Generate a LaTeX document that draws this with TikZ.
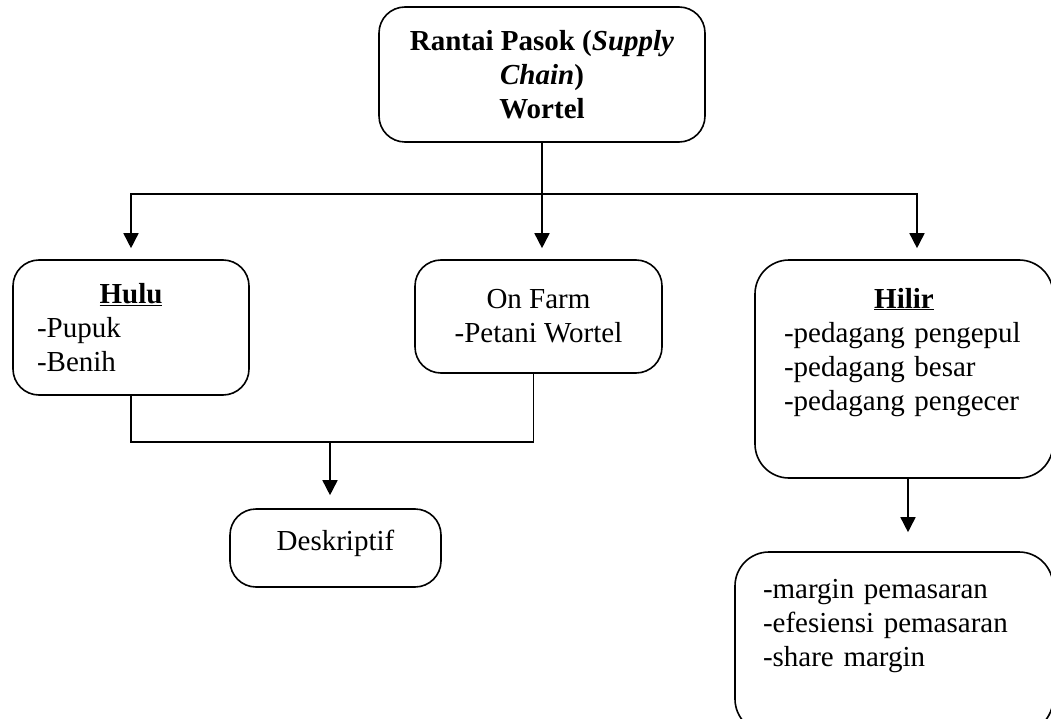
\documentclass[tikz,border=0pt]{standalone}
\usepackage{fontspec}
\setmainfont{Liberation Serif}
\usetikzlibrary{positioning, arrows.meta, calc}

\begin{document}
\begin{tikzpicture}[
  x=1pt, y=-1pt,
  box/.style={draw, line width=1.6pt, rounded corners=26pt, inner sep=0pt, align=center,
    font=\fontsize{29}{34}\selectfont},
  arrow/.style={-{Triangle[width=15pt,length=15pt]}, line width=1.6pt},
  link/.style={line width=1.6pt}
]
  \useasboundingbox (0,0) rectangle (1051,719);

  % Nodes
  \node[box, font=\fontsize{29}{34}\selectfont\bfseries, minimum width=326pt, minimum height=135pt]
    (rantai) at (542,74.5) {Rantai Pasok (\textit{Supply}\\ \textit{Chain})\\ Wortel};
  \node[box, minimum width=236pt, minimum height=135pt, text width=188pt, align=left] (hulu) at (131,327.5)
    {\makebox[\linewidth]{\textbf{\underline{Hulu}}}\\ -Pupuk\\ -Benih};
  \node[box, minimum width=247pt, minimum height=113pt] (onfarm) at (538.5,316.5)
    {On Farm\\ -Petani Wortel};
  \node[box, rounded corners=34pt, minimum width=298pt, text width=240pt, align=left,
    text height=48pt, text depth=170pt] (hilir) at (904,369)
    {\makebox[\linewidth]{\textbf{\underline{Hilir}}}\\ -pedagang pengepul\\ -pedagang besar\\ -pedagang pengecer};
  \node[box, minimum width=211pt, text height=41pt, text depth=37pt] (deskriptif) at (335.5,548) {Deskriptif};
  \node[box, rounded corners=34pt, minimum width=318pt, text width=262pt, align=left,
    text height=46pt, text depth=135pt] (analisis) at (894,642.5)
    {-margin pemasaran\\ -efesiensi pemasaran\\ -share margin};

  % Junctions
  \coordinate (split) at (542,194);
  \coordinate (hilirdrop) at (917,194);
  \coordinate (merge) at (330,442);
  \coordinate (hilirout) at ($(hilir.south)+(4,0)$);

  % Edges
  \draw[link] (rantai.south) -- (split);
  \draw[arrow, shorten >=11pt] (split) -| (hulu.north);
  \draw[arrow, shorten >=11pt] (split) -- (split |- onfarm.north);
  \draw[arrow, shorten >=11pt] (split) -- (hilirdrop) -- (hilirdrop |- hilir.north);
  \draw[link] (hulu.south) |- (merge);
  \draw[link] ($(onfarm.south)+(-5,0)$) |- (merge);
  \draw[arrow, shorten >=13pt] (merge) -- (merge |- deskriptif.north);
  \draw[arrow, shorten >=19pt] (hilirout) -- (hilirout |- analisis.north);

\end{tikzpicture}
\end{document}
